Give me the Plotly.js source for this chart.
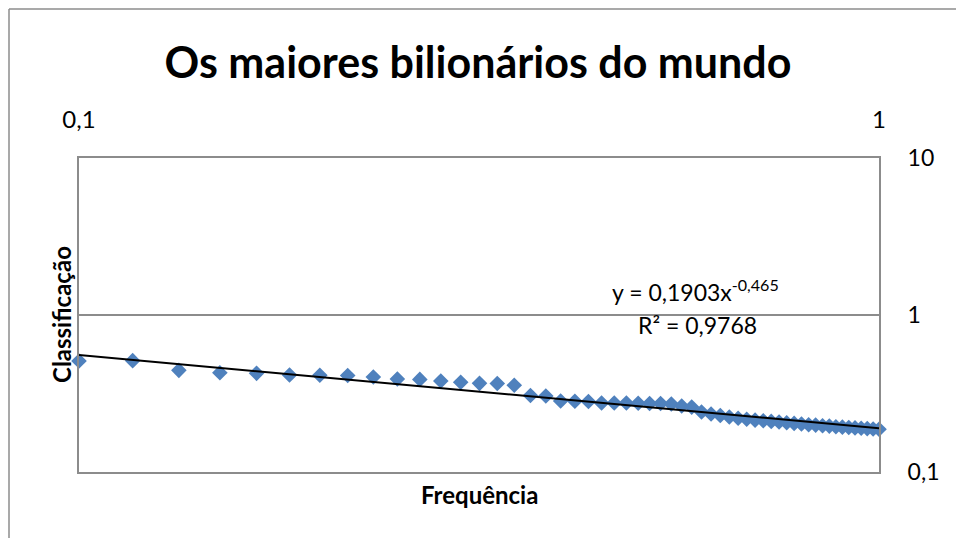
<!DOCTYPE html>
<html>
<head>
<meta charset="utf-8">
<script src="https://cdn.plot.ly/plotly-3.0.1.min.js"></script>
<style>html,body{margin:0;padding:0;background:#fff;}#chart{width:956px;height:538px;}</style>
</head>
<body>
<div id="chart"></div>
<script>
// Frequência (x) values
const frequencia = [0.1, 0.1167, 0.1333, 0.15, 0.1667, 0.1833, 0.2, 0.2167, 0.2333, 0.25,
  0.2667, 0.2833, 0.3, 0.3167, 0.3333, 0.35, 0.3667, 0.3833, 0.4, 0.4167,
  0.4333, 0.45, 0.4667, 0.4833, 0.5, 0.5167, 0.5333, 0.55, 0.5667, 0.5833,
  0.6, 0.6167, 0.6333, 0.65, 0.6667, 0.6833, 0.7, 0.7167, 0.7333, 0.75,
  0.7667, 0.7833, 0.8, 0.8167, 0.8333, 0.85, 0.8667, 0.8833, 0.9, 0.9167,
  0.9333, 0.95, 0.9667, 0.9833, 1.0];
// Classificação (y) values
const classificacao = [0.509, 0.512, 0.444, 0.429, 0.425, 0.415, 0.413, 0.412, 0.403, 0.391,
  0.389, 0.380, 0.373, 0.367, 0.366, 0.357, 0.307, 0.305, 0.283, 0.282,
  0.281, 0.275, 0.275, 0.275, 0.274, 0.273, 0.273, 0.271, 0.263, 0.259,
  0.241, 0.234, 0.229, 0.224, 0.220, 0.217, 0.214, 0.212, 0.210, 0.208,
  0.206, 0.204, 0.202, 0.200, 0.199, 0.197, 0.196, 0.194, 0.193, 0.192,
  0.191, 0.190, 0.189, 0.188, 0.187];
// Power trendline parameters
const trendA = 0.1903;
const trendB = -0.465;
const trendLabel = 'y = 0,1903x<sup>-0,465</sup>';
const r2Label = 'R² = 0,9768';
const xTickVals = [0.1, 1];
const xTickText = ['0,1', '1'];
const yTickVals = [0.1, 1, 10];
const yTickText = ['0,1', '1', '10'];

const xMin = Math.min(...frequencia), xMax = Math.max(...frequencia);
const trendX = [xMin, xMax];
const trendY = trendX.map(x => trendA * Math.pow(x, trendB));

const font = 'Lato, "Open Sans", sans-serif';
const gray = '#8c8c8c';

const data = [
  {x: frequencia, y: classificacao, type: 'scatter', mode: 'markers',
   marker: {symbol: 'diamond', size: 12, color: '#4F81BD', line: {width: 0}},
   hoverinfo: 'x+y', cliponaxis: false},
  {x: trendX, y: trendY, type: 'scatter', mode: 'lines',
   line: {color: '#000000', width: 2}, hoverinfo: 'skip'}
];

const layout = {
  width: 956, height: 538,
  margin: {l: 79, r: 77, t: 158, b: 66},
  paper_bgcolor: '#ffffff', plot_bgcolor: '#ffffff',
  showlegend: false,
  font: {family: font, color: '#000000', size: 23},
  title: {text: '<b>Os maiores bilionários do mundo</b>', font: {family: font, size: 43, color: '#000'},
          x: 0.5, xref: 'container', y: 1 - 63/538, yref: 'container', yanchor: 'middle', xanchor: 'center'},
  xaxis: {type: 'log', range: [-1, 0], side: 'top', tickvals: xTickVals, ticktext: xTickText,
          showgrid: false, zeroline: false, showline: true, mirror: true, linecolor: gray, linewidth: 2,
          ticks: '', ticklabelstandoff: 18, tickfont: {family: font, size: 24, color: '#000'}},
  yaxis: {type: 'log', range: [-1, 1], side: 'right', tickvals: yTickVals, ticktext: yTickText,
          showgrid: true, gridcolor: gray, gridwidth: 2, zeroline: false,
          showline: true, mirror: true, linecolor: gray, linewidth: 2,
          ticks: '', ticklabelstandoff: 22, tickfont: {family: font, size: 23, color: '#000'}},
  annotations: [
    {text: '<b>Frequência</b>', xref: 'paper', yref: 'paper', x: 0.5, y: (472-494)/314, xanchor: 'center', yanchor: 'middle',
     showarrow: false, font: {family: font, size: 24}},
    {text: '<b>Classificação</b>', xref: 'paper', yref: 'paper', x: (61-79)/800, y: 0.5, textangle: -90,
     xanchor: 'center', yanchor: 'middle', showarrow: false, font: {family: font, size: 24}},
    {text: trendLabel, xref: 'paper', yref: 'paper', x: (695-79)/800, y: (472-290)/314, xanchor: 'center', yanchor: 'middle',
     showarrow: false, font: {family: font, size: 23}},
    {text: r2Label, xref: 'paper', yref: 'paper', x: (697-79)/800, y: (472-325)/314, xanchor: 'center', yanchor: 'middle',
     showarrow: false, font: {family: font, size: 23}}
  ],
  shapes: [
    {type: 'line', xref: 'paper', yref: 'paper', x0: -70/800, x1: 2, y0: (472-9)/314, y1: (472-9)/314,
     line: {color: gray, width: 1.5}},
    {type: 'line', xref: 'paper', yref: 'paper', x0: -70/800, x1: -70/800, y0: (472-9)/314, y1: -0.5,
     line: {color: gray, width: 1.5}}
  ]
};

Plotly.newPlot('chart', data, layout, {displayModeBar: false, staticPlot: true});
</script>
</body>
</html>
